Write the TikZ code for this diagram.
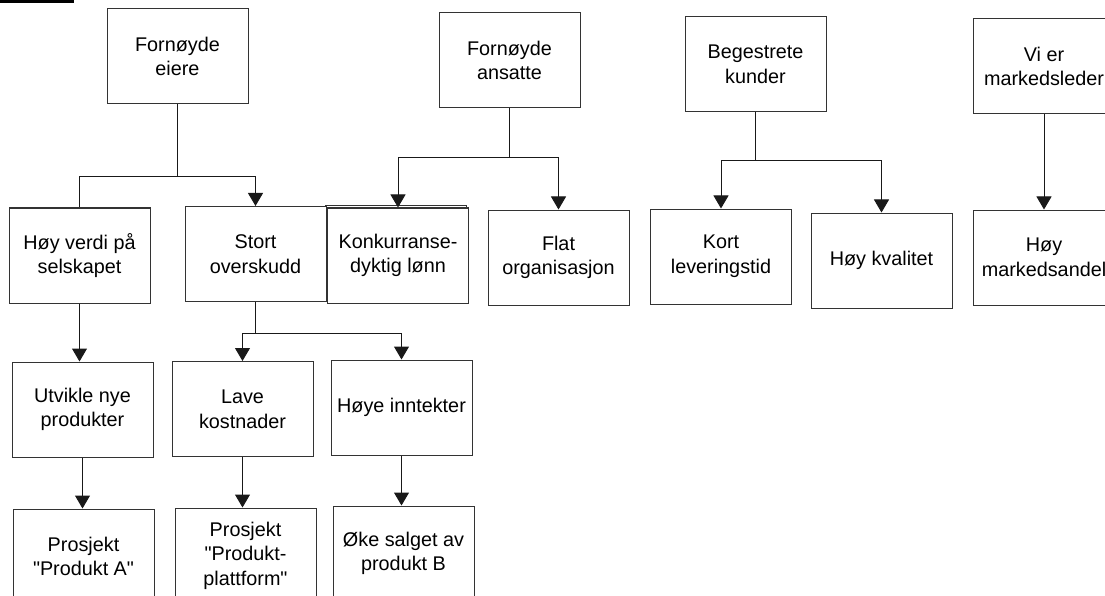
\documentclass[tikz,border=0pt]{standalone}
\usepackage{fontspec}
\setmainfont{Liberation Sans}[Ligatures=TeXOff]
\usetikzlibrary{arrows.meta}
\begin{document}
\begin{tikzpicture}[x=1pt,y=-1pt,
  goal/.style={draw=black!80, fill=white, line width=1pt, minimum width=141pt, minimum height=95pt,
    inner sep=0pt, align=center, font=\fontsize{19.8}{24.6}\selectfont},
  link/.style={line width=1pt, draw=black!90},
  arr/.style={link, -{Triangle[width=15pt,length=13pt]}}]
\useasboundingbox (0,0) rectangle (1105,596);
\clip (0,0) rectangle (1105,596);

% heading bar
\fill[black] (0,0) rectangle (74,3);

% top-level goals
\node[goal] (eiere)   at (177.5,56.5) {Fornøyde\\eiere};
\node[goal] (ansatte) at (509.5,60.5) {Fornøyde\\ansatte};
\node[goal] (kunder)  at (755.5,64)   {Begestrete\\kunder};
\node[goal] (leder)   at (1044,66.5)  {Vi er\\markedsleder};

% second level (the wage box sits on a slightly offset copy)
\draw[draw=black!80, line width=1pt] (325.5,205.5) rectangle (466.5,300.5);
\node[goal] (verdi)   at (79.5,255.5)  {Høy verdi på\\selskapet};
\node[goal] (overskudd) at (255.5,254) {Stort\\overskudd};
\node[goal] (lonn)    at (398,255.5)   {Konkurranse-\\dyktig lønn};
\node[goal] (flat)    at (558.5,257.5) {Flat\\organisasjon};
\node[goal] (lever)   at (721,256.5)   {Kort\\leveringstid};
\node[goal] (kval)    at (881.5,260.5) {Høy kvalitet};
\node[goal] (andel)   at (1044,257.5)  {Høy\\markedsandel};

% third level
\node[goal] (utvikle) at (82.5,409.5)  {Utvikle nye\\produkter};
\node[goal] (kost)    at (242.5,409)   {Lave\\kostnader};
\node[goal] (inntekt) at (401.5,407.5) {Høye inntekter};

% projects
\node[goal] (prA)     at (83.5,556.5)  {Prosjekt\\"Produkt A"};
\node[goal] (prPl)    at (245.5,555.5) {Prosjekt\\"Produkt-\\plattform"};
\node[goal] (prB)     at (403.5,553.5) {Øke salget av\\produkt B};

% owners branch
\draw[link] (eiere.south) -- ++(0,72) coordinate (f1);
\draw[link] (f1) -| (verdi.north);
\draw[arr]  (f1) -| (overskudd.north);

% employees branch
\draw[link] (ansatte.south) -- ++(0,49) coordinate (f2);
\draw[arr]  (f2) -| (lonn.north);
\draw[arr]  (f2) -| (flat.north);

% customers branch
\draw[link] (kunder.south) -- ++(0,49) coordinate (f3);
\draw[arr]  (f3) -| (lever.north);
\draw[arr]  (f3) -| (kval.north);

% market branch
\draw[arr] (leder.south) -- (andel.north);

% lower levels
\draw[arr] (verdi.south) -- (verdi.south |- utvikle.north);
\draw[arr] (utvikle.south) -- (utvikle.south |- prA.north);
\draw[link] (overskudd.south) -- ++(0,31) coordinate (f4);
\draw[arr] (f4) -| (kost.north);
\draw[arr] (f4) -| (inntekt.north);
\draw[arr] (kost.south) -- (kost.south |- prPl.north);
\draw[arr] (inntekt.south) -- (inntekt.south |- prB.north);
\end{tikzpicture}
\end{document}
